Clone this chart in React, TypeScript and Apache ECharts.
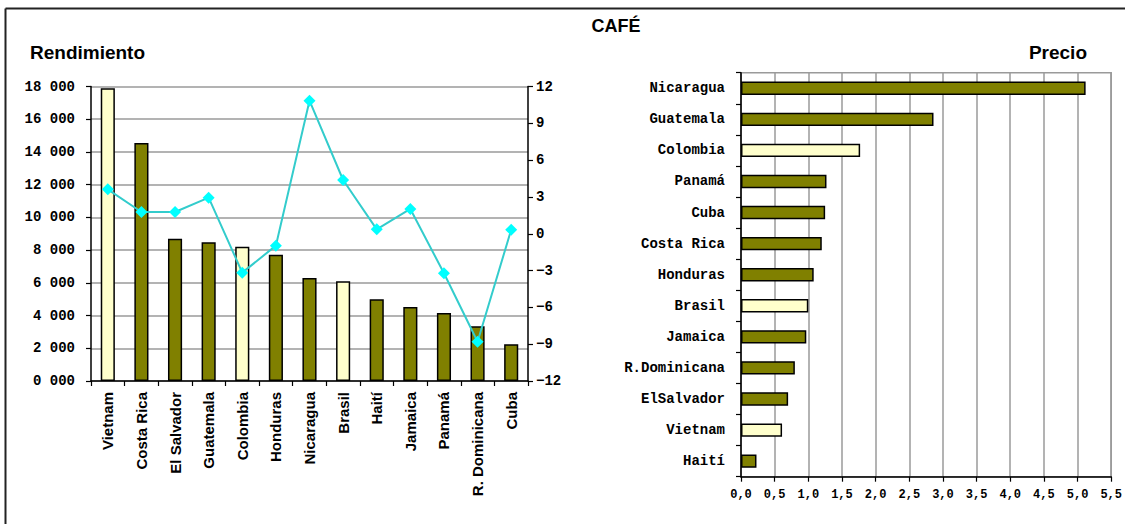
import { useEffect, useRef } from 'react';
import * as echarts from 'echarts';

// Rendimiento (left panel): yield per country and its change
const yieldCountries = [
  'Vietnam', 'Costa Rica', 'El Salvador', 'Guatemala', 'Colombia', 'Honduras',
  'Nicaragua', 'Brasil', 'Haití', 'Jamaica', 'Panamá', 'R. Dominicana', 'Cuba',
];
const yieldValues = [17900, 14550, 8700, 8480, 8200, 7720, 6300, 6100, 5000, 4530, 4150, 3350, 2250];
const yieldChange = [3.62, 1.77, 1.77, 2.94, -3.17, -0.97, 10.84, 4.38, 0.36, 2.02, -3.22, -8.8, 0.33];

// Precio (right panel)
const priceCountries = [
  'Nicaragua', 'Guatemala', 'Colombia', 'Panamá', 'Cuba', 'Costa Rica', 'Honduras',
  'Brasil', 'Jamaica', 'R.Dominicana', 'ElSalvador', 'Vietnam', 'Haití',
];
const priceValues = [5.12, 2.86, 1.77, 1.27, 1.25, 1.2, 1.08, 1.0, 0.97, 0.8, 0.7, 0.61, 0.23];

// Countries drawn in the pale colour
const highlighted = ['Vietnam', 'Colombia', 'Brasil'];

const OLIVE = '#808000';
const PALE = '#FFFFCC';
const GRID_GREY = '#9a9a9a';
const MONO = '"Liberation Mono", "DejaVu Sans Mono", monospace';
const SANS = '"Liberation Sans", Arial, sans-serif';

const barColor = (name: string) => (highlighted.includes(name) ? PALE : OLIVE);

export default function App() {
  const ref = useRef<HTMLDivElement>(null);

  useEffect(() => {
    if (!ref.current) return;
    const chart = echarts.init(ref.current, null, { renderer: 'svg' });

    const axisLine = { show: true, lineStyle: { color: '#000', width: 1.5 } };
    const axisTick = { show: true, length: 5, lineStyle: { color: '#000', width: 1.2 } };
    const monoLabel = { color: '#000', fontFamily: MONO, fontWeight: 'bold' as const };

    chart.setOption({
      animation: false,
      backgroundColor: '#fff',
      graphic: [
        { type: 'line', shape: { x1: 5.5, y1: 8.5, x2: 1125, y2: 8.5 }, style: { stroke: '#222', lineWidth: 2 } },
        { type: 'line', shape: { x1: 5.5, y1: 8.5, x2: 5.5, y2: 524 }, style: { stroke: '#222', lineWidth: 2 } },
        {
          type: 'text', x: 616, y: 26,
          style: { text: 'CAFÉ', align: 'center', verticalAlign: 'middle', fontFamily: SANS, fontWeight: 'bold', fontSize: 18, fill: '#000' },
        },
        {
          type: 'text', x: 30, y: 52,
          style: { text: 'Rendimiento', align: 'left', verticalAlign: 'middle', fontFamily: SANS, fontWeight: 'bold', fontSize: 19, fill: '#000' },
        },
        {
          type: 'text', x: 1087, y: 52,
          style: { text: 'Precio', align: 'right', verticalAlign: 'middle', fontFamily: SANS, fontWeight: 'bold', fontSize: 19, fill: '#000' },
        },
      ],
      grid: [
        { left: 91, top: 86.5, width: 437, height: 294.5 },
        { left: 741, top: 72.7, width: 371, height: 404, show: true, borderColor: GRID_GREY, borderWidth: 1.5 },
      ],
      xAxis: [
        {
          type: 'category', gridIndex: 0, data: yieldCountries,
          axisLine, axisTick: { ...axisTick, alignWithLabel: false },
          axisLabel: { rotate: 90, margin: 11, color: '#000', fontFamily: SANS, fontWeight: 'bold', fontSize: 15, interval: 0 },
        },
        {
          type: 'value', gridIndex: 1, min: 0, max: 5.5, interval: 0.5,
          axisLine, axisTick,
          splitLine: { show: true, lineStyle: { color: GRID_GREY, width: 1.5 } },
          axisLabel: { ...monoLabel, fontSize: 12, margin: 12, formatter: (v: number) => v.toFixed(1).replace('.', ',') },
        },
      ],
      yAxis: [
        {
          type: 'value', gridIndex: 0, position: 'left', min: 0, max: 18000, interval: 2000,
          axisLine, axisTick,
          splitLine: { show: true, lineStyle: { color: GRID_GREY, width: 1.5 } },
          axisLabel: { ...monoLabel, fontSize: 14, margin: 16, formatter: (v: number) => `${Math.floor(v / 1000)} 000` },
        },
        {
          type: 'value', gridIndex: 0, position: 'right', min: -12, max: 12, interval: 3,
          axisLine, axisTick, splitLine: { show: false },
          axisLabel: { ...monoLabel, fontSize: 14, margin: 8, formatter: (v: number) => (v < 0 ? `−${-v}` : `${v}`) },
        },
        {
          type: 'category', gridIndex: 1, data: priceCountries, inverse: true,
          axisLine, axisTick: { ...axisTick, alignWithLabel: false },
          axisLabel: { ...monoLabel, fontSize: 14, margin: 16, interval: 0 },
        },
      ],
      series: [
        {
          type: 'bar', xAxisIndex: 0, yAxisIndex: 0, barWidth: '42%',
          data: yieldValues.map((v, i) => ({
            value: v,
            itemStyle: { color: barColor(yieldCountries[i]), borderColor: '#000', borderWidth: 1.5 },
          })),
        },
        {
          type: 'line', xAxisIndex: 0, yAxisIndex: 1, z: 5, data: yieldChange,
          symbol: 'diamond', symbolSize: 12,
          lineStyle: { color: '#33CCCC', width: 2 },
          itemStyle: { color: '#00FFFF' },
        },
        {
          type: 'bar', xAxisIndex: 1, yAxisIndex: 2, barWidth: '43%',
          data: priceValues.map((v, i) => ({
            value: v,
            itemStyle: { color: barColor(priceCountries[i]), borderColor: '#000', borderWidth: 1.5 },
          })),
        },
      ],
    });

    return () => chart.dispose();
  }, []);

  return (
    <div
      ref={ref}
      style={{ position: 'absolute', left: 0, top: 0, width: 1125, height: 524, background: '#fff' }}
    />
  );
}
